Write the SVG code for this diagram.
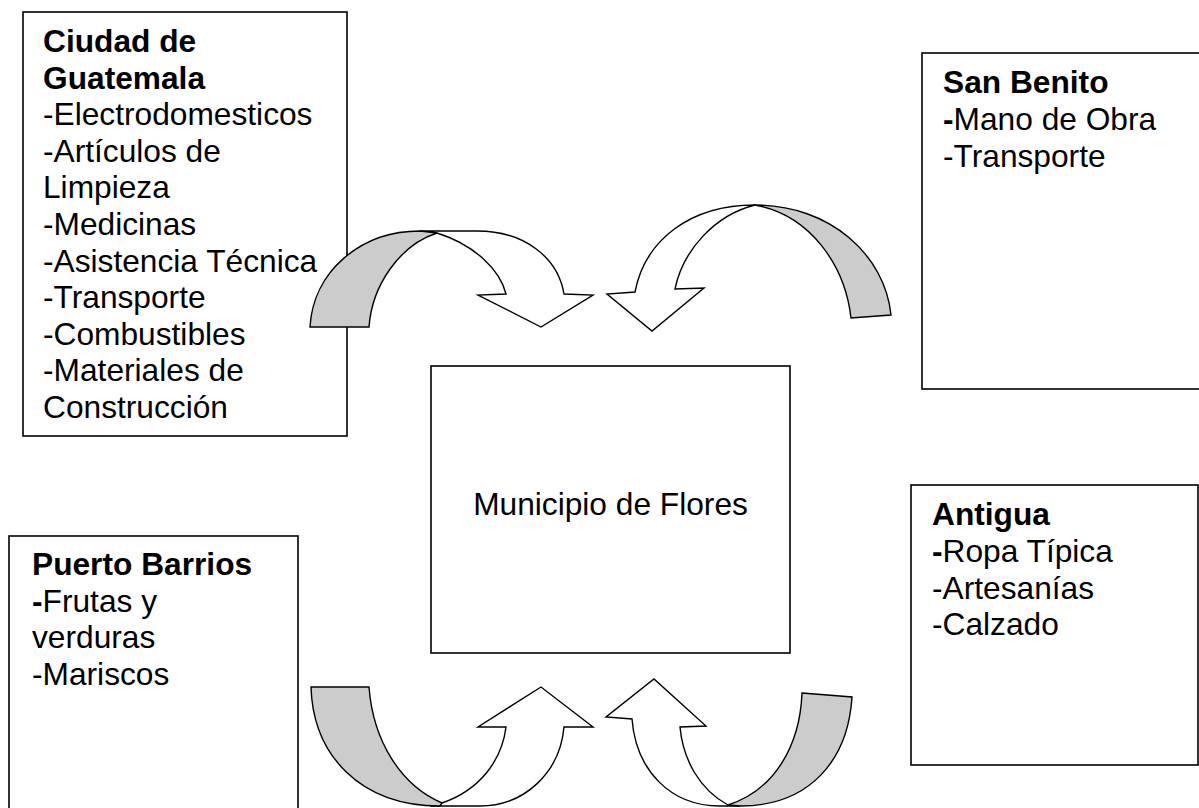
<svg xmlns="http://www.w3.org/2000/svg" width="1199" height="808" viewBox="0 0 1199 808">
<style>
.box{fill:#fff;stroke:#000;stroke-width:1.6}
.t{font-family:"Liberation Sans",Arial,sans-serif;font-size:31.7px;fill:#000}
.b{font-weight:bold}
.front{fill:#fff;stroke:#000;stroke-width:1.4;stroke-linejoin:miter}
.back{fill:#cccccc;stroke:#000;stroke-width:1.4}
</style>
<rect width="1199" height="808" fill="#fff"/>
<g id="node-guatemala">
<rect class="box" x="23" y="12" width="324" height="424"/>
<text class="t" x="43" y="52"><tspan class="b">Ciudad de</tspan><tspan class="b" x="43" dy="36.6">Guatemala</tspan><tspan x="43" dy="36.6">-Electrodomesticos</tspan><tspan x="43" dy="36.6">-Artículos de</tspan><tspan x="43" dy="36.6">Limpieza</tspan><tspan x="43" dy="36.6">-Medicinas</tspan><tspan x="43" dy="36.6">-Asistencia Técnica</tspan><tspan x="43" dy="36.6">-Transporte</tspan><tspan x="43" dy="36.6">-Combustibles</tspan><tspan x="43" dy="36.6">-Materiales de</tspan><tspan x="43" dy="36.6">Construcción</tspan></text>
</g>
<g id="node-sanbenito">
<rect class="box" x="922" y="53" width="290" height="336"/>
<text class="t" x="943" y="93"><tspan class="b">San Benito</tspan><tspan x="943" dy="36.8"><tspan class="b">-</tspan>Mano de Obra</tspan><tspan x="943" dy="36.8">-Transporte</tspan></text>
</g>
<g id="node-flores">
<rect class="box" x="431" y="366" width="359" height="287"/>
<text class="t" x="610.5" y="515" text-anchor="middle">Municipio de Flores</text>
</g>
<g id="node-antigua">
<rect class="box" x="911" y="485" width="287" height="280"/>
<text class="t" x="932" y="525"><tspan class="b">Antigua</tspan><tspan x="932" dy="36.8"><tspan class="b">-</tspan>Ropa Típica</tspan><tspan x="932" dy="36.8">-Artesanías</tspan><tspan x="932" dy="36.8">-Calzado</tspan></text>
</g>
<g id="node-puertobarrios">
<rect class="box" x="9" y="536" width="289" height="290"/>
<text class="t" x="32" y="575"><tspan class="b">Puerto Barrios</tspan><tspan x="32" dy="36.7"><tspan class="b">-</tspan>Frutas y</tspan><tspan x="32" dy="36.7">verduras</tspan><tspan x="32" dy="36.7">-Mariscos</tspan></text>
</g>
<g id="connectors">
<g id="arrow-guatemala">
<path class="front" d="M437,233 C475,245 500,270 506,294 L478,295 L541,327 L593,295 L564,294 C558,258 525,231 477,231 L420,231 Z"/>
<path class="back" d="M310,327 C313,272 360,231 420,231 L437,233 C400,245 372,285 369,327 Z"/>
</g>
<g id="arrow-sanbenito">
<path class="front" d="M755,205 C715,215 683,250 675,289 L704,288 L652,331 L607,294 L635,292 C645,240 690,205 755,205 Z"/>
<path class="back" d="M755,205 C830,205 885,255 891,315 L851,318 C845,265 810,215 755,205 Z"/>
</g>
<g id="arrow-puertobarrios">
<path class="front" d="M442,803 C480,790 502,760 506,727 L478,727 L541,687 L593,727 L564,727 C560,772 525,806 480,806 L430,806 Z"/>
<path class="back" d="M311,687 L369,687 C373,740 400,785 442,803 L440,806 C360,806 313,755 311,687 Z"/>
</g>
<g id="arrow-antigua">
<path class="front" d="M728,805 C700,790 683,760 680,727 L706,726 L654,679 L606,717 L632,719 C636,770 670,806 720,806 L740,806 Z"/>
<path class="back" d="M802,693 L852,697 C848,760 810,806 740,806 L728,805 C775,790 800,745 802,693 Z"/>
</g>
</g>
</svg>
